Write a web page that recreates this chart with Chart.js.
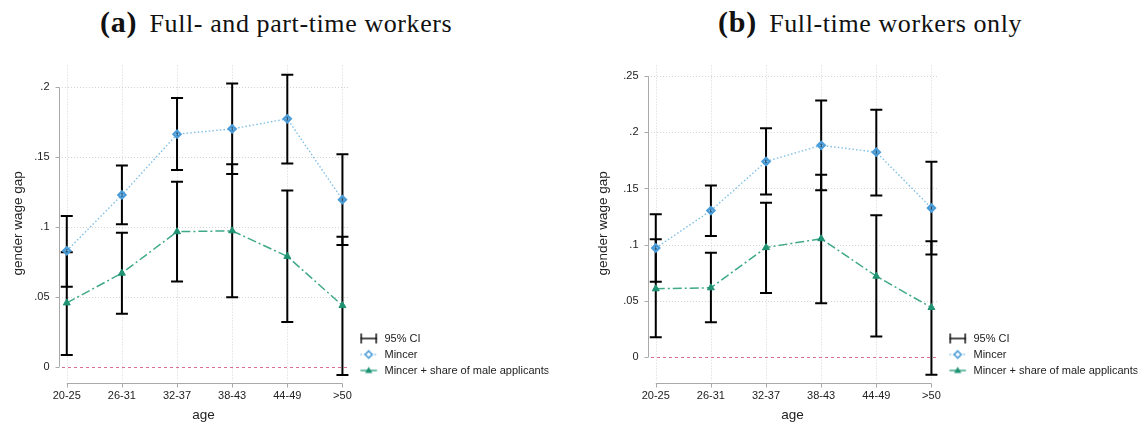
<!DOCTYPE html>
<html><head><meta charset="utf-8">
<script src="https://cdn.jsdelivr.net/npm/chart.js@4.4.0/dist/chart.umd.min.js"></script>
<style>
html,body{margin:0;padding:0;background:#fff;width:1143px;height:424px;overflow:hidden;}
.title{position:absolute;top:6px;font-family:"Liberation Serif","Times New Roman",serif;font-size:26px;letter-spacing:0.6px;color:#111;white-space:nowrap;line-height:32px;}
.title b{font-size:30px;letter-spacing:0.8px;margin-right:5px;}
.box{position:absolute;top:50px;width:554px;height:374px;}
</style></head><body>
<div class="title" style="left:100px"><b>(a)</b> Full- and part-time workers</div>
<div class="title" style="left:718px"><b>(b)</b> Full-time workers only</div>
<div class="box" style="left:0"><canvas id="c1"></canvas></div>
<div class="box" style="left:589px"><canvas id="c2"></canvas></div>
<script>
const categories = ['20-25', '26-31', '32-37', '38-43', '44-49', '>50'];

// (a) Full- and part-time workers
const mincerA   = [0.083, 0.123, 0.1665, 0.1703, 0.1775, 0.1196];
const mincerLoA = [0.0573, 0.102, 0.1408, 0.138, 0.1456, 0.0871];
const mincerHiA = [0.108, 0.144, 0.1924, 0.2028, 0.209, 0.1522];
const shareA    = [0.0457, 0.067, 0.0967, 0.0973, 0.079, 0.0438];
const shareLoA  = [0.0085, 0.0379, 0.0611, 0.0497, 0.032, -0.0059];
const shareHiA  = [0.082, 0.0959, 0.1325, 0.1449, 0.1262, 0.093];

// (b) Full-time workers only
const mincerB   = [0.097, 0.1303, 0.174, 0.1884, 0.1823, 0.1326];
const mincerLoB = [0.0669, 0.1077, 0.1447, 0.1485, 0.1438, 0.0913];
const mincerHiB = [0.127, 0.1526, 0.2036, 0.2283, 0.220, 0.1737];
const shareB    = [0.0607, 0.0616, 0.0974, 0.1053, 0.0719, 0.044];
const shareLoB  = [0.0176, 0.0308, 0.0569, 0.0478, 0.0182, -0.0158];
const shareHiB  = [0.1048, 0.0927, 0.1373, 0.1623, 0.1262, 0.103];

const yTicksA = [0, 0.05, 0.1, 0.15, 0.2];
const yTickLabelsA = ['0', '.05', '.1', '.15', '.2'];
const yTicksB = [0, 0.05, 0.1, 0.15, 0.2, 0.25];
const yTickLabelsB = ['0', '.05', '.1', '.15', '.2', '.25'];

const legendLabels = ['95% CI', 'Mincer', 'Mincer + share of male applicants'];
const yTitle = 'gender wage gap';
const xTitle = 'age';

const BLUE_LINE = '#7fbfe6', BLUE_MARK = '#4a9cd8';
const GREEN_LINE = '#3fa98a', GREEN_MARK = '#1e9272';
const FONT = '"Liberation Sans", Arial, Helvetica, sans-serif';

function makeIcon(kind) {
  const c = document.createElement('canvas');
  c.width = 26; c.height = 12;
  const g = c.getContext('2d');
  const x0 = 7.25, x1 = 23.75, cy = 6;
  if (kind === 0) {
    g.strokeStyle = '#111'; g.lineWidth = 1.5;
    g.beginPath(); g.moveTo(x0, cy); g.lineTo(x1, cy); g.stroke();
    g.beginPath(); g.moveTo(x0 + 0.75, cy - 5); g.lineTo(x0 + 0.75, cy + 5); g.stroke();
    g.beginPath(); g.moveTo(x1 - 0.75, cy - 5); g.lineTo(x1 - 0.75, cy + 5); g.stroke();
  } else if (kind === 1) {
    g.strokeStyle = BLUE_LINE; g.lineWidth = 1.3; g.setLineDash([1.5, 2]);
    g.beginPath(); g.moveTo(x0, cy); g.lineTo(x1, cy); g.stroke();
    g.setLineDash([]);
    const mx = (x0 + x1) / 2;
    g.fillStyle = '#fff'; g.strokeStyle = BLUE_MARK; g.lineWidth = 1.6;
    g.beginPath(); g.moveTo(mx, cy - 3.5); g.lineTo(mx + 3.5, cy); g.lineTo(mx, cy + 3.5); g.lineTo(mx - 3.5, cy); g.closePath();
    g.fill(); g.stroke();
  } else {
    g.strokeStyle = GREEN_LINE; g.lineWidth = 1.5;
    g.beginPath(); g.moveTo(x0, cy); g.lineTo(x1, cy); g.stroke();
    const mx = (x0 + x1) / 2;
    g.fillStyle = GREEN_MARK;
    g.beginPath(); g.moveTo(mx, cy - 3.8); g.lineTo(mx + 3.6, cy + 2.4); g.lineTo(mx - 3.6, cy + 2.4); g.closePath(); g.fill();
  }
  return c;
}
const icons = [makeIcon(0), makeIcon(1), makeIcon(2)];

const stataPlugin = {
  id: 'stata',
  beforeDatasetsDraw(chart, args, opts) {
    const {ctx, chartArea: ca} = chart;
    const x = chart.scales.x, y = chart.scales.y;
    const yt = opts.yTicks;
    ctx.save();
    // dotted grid
    ctx.strokeStyle = '#d4d4d4'; ctx.lineWidth = 1; ctx.setLineDash([1, 2]);
    yt.forEach(v => {
      if (v === 0) return;
      const py = Math.round(y.getPixelForValue(v)) + 0.5;
      ctx.beginPath(); ctx.moveTo(ca.left + 3.5, py); ctx.lineTo(ca.right, py); ctx.stroke();
    });
    categories.forEach((c, i) => {
      const px = Math.round(x.getPixelForValue(i)) + 0.5;
      ctx.beginPath(); ctx.moveTo(px, ca.top); ctx.lineTo(px, ca.bottom); ctx.stroke();
    });
    // zero reference line
    ctx.strokeStyle = '#db6f8d'; ctx.setLineDash([3, 3]);
    const p0 = Math.round(y.getPixelForValue(0)) + 0.5;
    ctx.beginPath(); ctx.moveTo(ca.left + 3.5, p0); ctx.lineTo(ca.right, p0); ctx.stroke();
    // axes
    ctx.setLineDash([]); ctx.strokeStyle = '#a9a9a9'; ctx.lineWidth = 1;
    const ax = Math.round(ca.left) + 0.5;
    ctx.beginPath();
    ctx.moveTo(ax, y.getPixelForValue(yt[0])); ctx.lineTo(ax, y.getPixelForValue(yt[yt.length - 1]));
    yt.forEach(v => { const py = Math.round(y.getPixelForValue(v)) + 0.5; ctx.moveTo(ax - 4, py); ctx.lineTo(ax, py); });
    const ay = Math.round(ca.bottom) + 2.5;
    ctx.moveTo(x.getPixelForValue(0), ay); ctx.lineTo(x.getPixelForValue(categories.length - 1), ay);
    categories.forEach((c, i) => { const px = Math.round(x.getPixelForValue(i)) + 0.5; ctx.moveTo(px, ay); ctx.lineTo(px, ay + 4); });
    ctx.stroke();
    // 95% CI caps
    ctx.strokeStyle = '#000'; ctx.lineWidth = 2;
    opts.bars.forEach(b => {
      b.lo.forEach((lo, i) => {
        const px = x.getPixelForValue(i);
        const pl = y.getPixelForValue(lo), ph = y.getPixelForValue(b.hi[i]);
        ctx.beginPath();
        ctx.moveTo(px, pl); ctx.lineTo(px, ph);
        ctx.moveTo(px - 6, pl); ctx.lineTo(px + 6, pl);
        ctx.moveTo(px - 6, ph); ctx.lineTo(px + 6, ph);
        ctx.stroke();
      });
    });
    ctx.restore();
  }
};

function pts(arr) { return arr.map((v, i) => ({x: i, y: v})); }

function build(id, mincer, mLo, mHi, share, sLo, sHi, yTicks, yLabels, yMin, yMax, yTitlePad) {
  return new Chart(document.getElementById(id), {
    type: 'line',
    data: {
      datasets: [
        {
          label: legendLabels[1], data: pts(mincer),
          borderColor: BLUE_LINE, borderWidth: 1.4, borderDash: [1.5, 2.2],
          pointStyle: 'rectRot', pointRadius: 3.6, pointBorderWidth: 2.2,
          pointBorderColor: BLUE_MARK, pointBackgroundColor: 'rgba(74,156,216,0.55)',
          tension: 0, fill: false
        },
        {
          label: legendLabels[2], data: pts(share),
          borderColor: GREEN_LINE, borderWidth: 1.5, borderDash: [9, 3, 2, 3],
          pointStyle: 'triangle', pointRadius: 4, pointBorderWidth: 1,
          pointBorderColor: GREEN_MARK, pointBackgroundColor: GREEN_MARK,
          tension: 0, fill: false
        }
      ]
    },
    options: {
      responsive: true, maintainAspectRatio: false, animation: false,
      devicePixelRatio: 1,
      layout: { padding: { top: 13, left: 0, right: 5.5, bottom: 0 } },
      scales: {
        x: {
          type: 'linear', min: -0.15, max: 5.11,
          grid: { display: false, drawTicks: false, tickLength: 0 }, border: { display: false },
          afterBuildTicks: s => { s.ticks = categories.map((c, i) => ({ value: i })); },
          afterFit: s => { s.height = 43; },
          ticks: { padding: 8, color: '#222', font: { family: FONT, size: 11 }, autoSkip: false, maxRotation: 0,
                   callback: v => categories[v] },
          title: { display: true, text: xTitle, color: '#222', font: { family: FONT, size: 13.5 }, padding: { top: 0, bottom: 1 } }
        },
        y: {
          type: 'linear', min: yMin, max: yMax,
          grid: { display: false, drawTicks: false, tickLength: 0 }, border: { display: false },
          afterBuildTicks: s => { s.ticks = yTicks.map(v => ({ value: v })); },
          afterFit: s => { s.width = 58.5; },
          ticks: { padding: 9, color: '#222', font: { family: FONT, size: 11 },
                   callback: v => yLabels[yTicks.indexOf(v)] },
          title: { display: true, text: yTitle, color: '#222', font: { family: FONT, size: 13.5 }, padding: { top: yTitlePad, bottom: 0 } }
        }
      },
      plugins: {
        legend: {
          display: true, position: 'right', align: 'end', fullSize: false, maxWidth: 200,
          onClick: null,
          labels: {
            usePointStyle: true, pointStyleWidth: 25.5, padding: 5, color: '#222',
            font: { family: FONT, size: 11 },
            generateLabels: () => legendLabels.map((t, i) => ({
              text: t, pointStyle: icons[i], fillStyle: 'transparent', strokeStyle: 'transparent',
              lineWidth: 0, hidden: false, fontColor: '#222'
            }))
          }
        },
        tooltip: { enabled: false },
        stata: { yTicks: yTicks, bars: [ { lo: mLo, hi: mHi }, { lo: sLo, hi: sHi } ] }
      }
    },
    plugins: [stataPlugin]
  });
}

build('c1', mincerA, mincerLoA, mincerHiA, shareA, shareLoA, shareHiA, yTicksA, yTickLabelsA, -0.0102, 0.2156, 9.9);
build('c2', mincerB, mincerLoB, mincerHiB, shareB, shareLoB, shareHiB, yTicksB, yTickLabelsB, -0.0214, 0.2594, 5.9);
</script>
</body></html>
